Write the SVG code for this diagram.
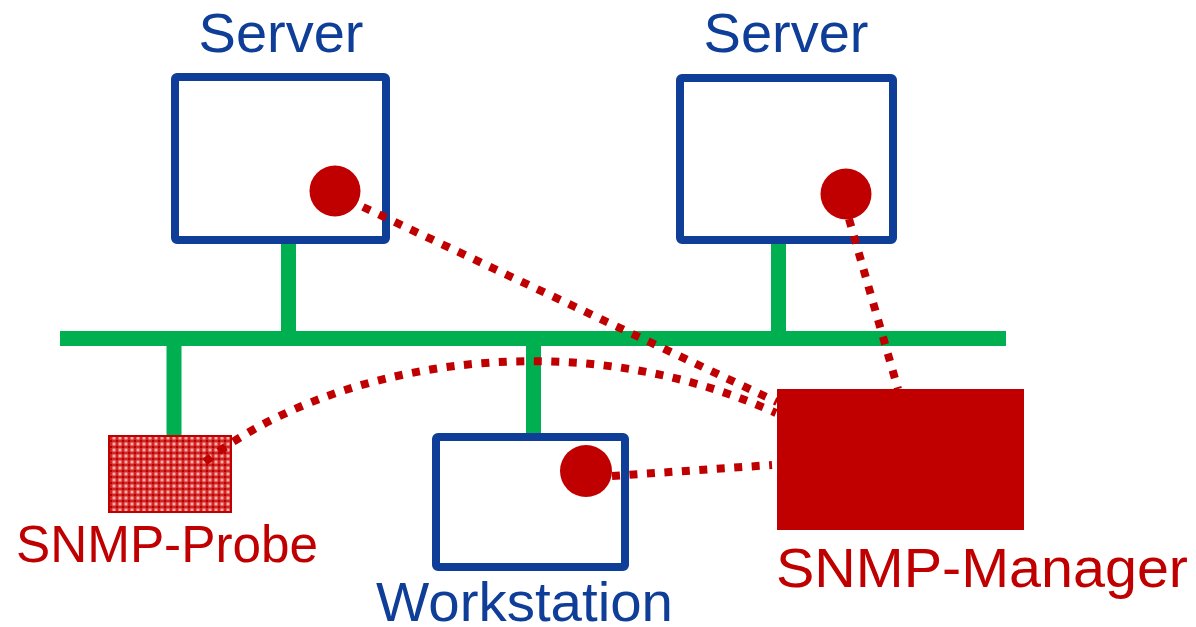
<svg xmlns="http://www.w3.org/2000/svg" width="1196" height="627" viewBox="0 0 1196 627">
<style>
.box{fill:#fff;stroke:#0E3E97;stroke-width:8}
.dot{fill:#C00000}
.bus{stroke:#00B050;stroke-width:15;fill:none}
.link{stroke:#C00000;stroke-width:8;stroke-dasharray:8 9.5;fill:none}
.lbl{font-family:"Liberation Sans",Arial,sans-serif;font-size:56px}
.blue{fill:#0E3E97}
.red{fill:#C00000}
</style>
<defs>
<pattern id="hatch" width="6" height="6" patternUnits="userSpaceOnUse">
<rect width="6" height="6" fill="#F2B0A8"/>
<rect x="1.5" y="0" width="3" height="6" fill="#D42424"/>
<rect x="0" y="1.5" width="6" height="3" fill="#D42424"/>
<rect x="2" y="2" width="2" height="2" fill="#B00000"/>
</pattern>
</defs>
<g id="network">
<line class="bus" x1="60" y1="338.5" x2="1006" y2="338.5"/>
<line class="bus" x1="288.5" y1="244" x2="288.5" y2="338"/>
<line class="bus" x1="778.5" y1="244" x2="778.5" y2="338"/>
<line class="bus" x1="174" y1="338" x2="174" y2="436"/>
<line class="bus" x1="533.5" y1="338" x2="533.5" y2="434"/>
</g>
<g id="server1">
<rect class="box" x="175" y="77" width="211" height="163" rx="2"/>
<circle class="dot" cx="335" cy="191" r="25.5"/>
<text class="lbl blue" x="281" y="52" text-anchor="middle">Server</text>
</g>
<g id="server2">
<rect class="box" x="680" y="78" width="213" height="162" rx="2"/>
<circle class="dot" cx="846" cy="194" r="25.5"/>
<text class="lbl blue" x="786" y="52" text-anchor="middle">Server</text>
</g>
<g id="workstation">
<rect class="box" x="436" y="437" width="189" height="130" rx="2"/>
<circle class="dot" cx="586" cy="471" r="26"/>
<text class="lbl blue" x="376" y="621" textLength="297" lengthAdjust="spacingAndGlyphs">Workstation</text>
</g>
<g id="probe">
<rect x="109" y="436" width="122" height="76" fill="url(#hatch)" stroke="#C00000" stroke-width="2"/>
<text class="lbl red" x="16" y="562" style="font-size:52px" textLength="302" lengthAdjust="spacingAndGlyphs">SNMP-Probe</text>
</g>
<g id="manager">
<rect x="777" y="389" width="247" height="141" fill="#C00000"/>
<text class="lbl red" x="776" y="587" textLength="412" lengthAdjust="spacingAndGlyphs">SNMP-Manager</text>
</g>
<g id="connectors">
<line class="link" x1="363" y1="207" x2="777" y2="402"/>
<line class="link" x1="849" y1="219" x2="898" y2="389"/>
<line class="link" x1="612" y1="476" x2="772" y2="465"/>
<path class="link" d="M205,462 C320,370 560,315 776,413"/>
</g>
</svg>
